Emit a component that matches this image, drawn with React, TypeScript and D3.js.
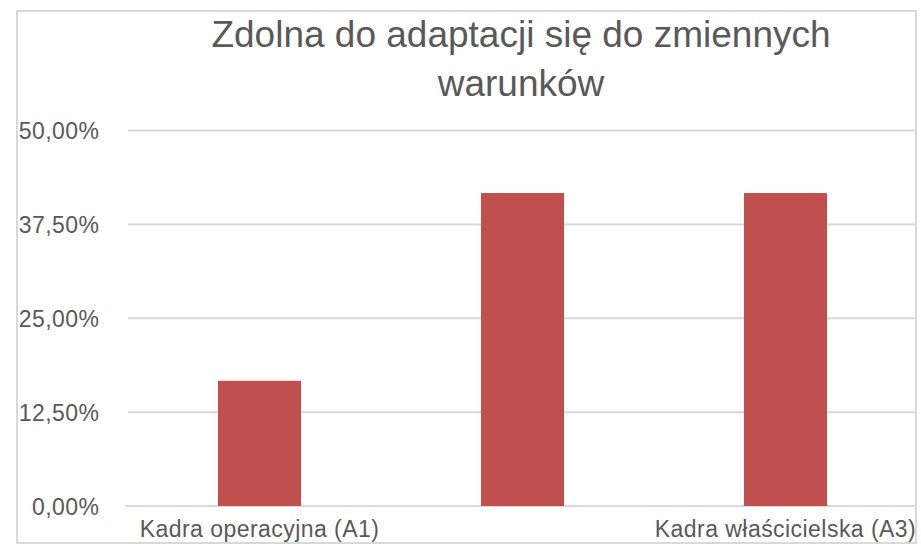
import React from "react";
import * as d3 from "d3";

const categories = ["Kadra operacyjna (A1)", "Kadra menedżerska (A2)", "Kadra właścicielska (A3)"];
const values = [16.67, 41.67, 41.67];
const yTicks = [0, 12.5, 25, 37.5, 50];
const titleLines = ["Zdolna do adaptacji się do zmiennych", "warunków"];

const W = 921;
const H = 544;
const FONT = "'Liberation Sans', Arial, Helvetica, sans-serif";
const TEXT = "#595959";
const GRID = "#d9d9d9";
const BAR = "#c0504d";

export default function App() {
  const x = d3
    .scaleBand<string>()
    .domain(categories)
    .range([128, 917])
    .paddingInner(0.684)
    .paddingOuter(0.342);
  const y = d3.scaleLinear().domain([0, 50]).range([506, 130.5]);
  const fmt = (v: number) => v.toFixed(2).replace(".", ",") + "%";

  return (
    <svg
      width={W}
      height={H}
      style={{ position: "absolute", left: 0, top: 0, background: "#fff" }}
      fontFamily={FONT}
    >
      <rect x={0} y={0} width={W} height={H} fill="#fff" />
      <rect x={17} y={11} width={899} height={532} fill="#fff" stroke={GRID} strokeWidth={2} />
      {titleLines.map((t, i) => (
        <text
          key={i}
          x={521}
          y={46.5 + i * 49}
          textAnchor="middle"
          fontSize={37}
          fill={TEXT}
        >
          {t}
        </text>
      ))}
      {yTicks.map((t) => (
        <g key={t}>
          <line
            x1={t === 0 ? 125 : 128}
            x2={916}
            y1={y(t)}
            y2={y(t)}
            stroke={GRID}
            strokeWidth={2}
          />
          <text
            x={99.5}
            y={y(t) + 8.5}
            textAnchor="end"
            fontSize={23}
            letterSpacing={0.45}
            fill={TEXT}
          >
            {fmt(t)}
          </text>
        </g>
      ))}
      {categories.map((c, i) => (
        <rect
          key={c}
          x={x(c)}
          y={y(values[i])}
          width={x.bandwidth()}
          height={y(0) - y(values[i])}
          fill={BAR}
        />
      ))}
      {categories.map((c, i) =>
        i % 2 === 0 ? (
          <text
            key={c}
            x={(x(c) as number) + x.bandwidth() / 2}
            y={537}
            textAnchor="middle"
            fontSize={23}
            letterSpacing={0.45}
            fill={TEXT}
          >
            {c}
          </text>
        ) : null
      )}
    </svg>
  );
}
